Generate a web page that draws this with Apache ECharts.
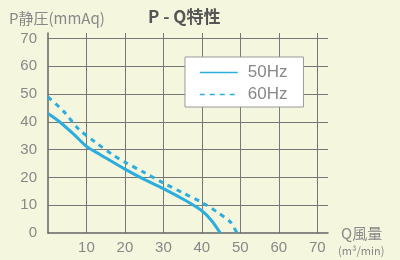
<!DOCTYPE html>
<html><head><meta charset="utf-8">
<script src="https://cdn.jsdelivr.net/npm/echarts@6/dist/echarts.min.js"></script>
<style>html,body{margin:0;padding:0;background:#f5f6de;}#c{width:400px;height:260px;}</style>
</head><body><div id="c"></div>
<script>
var titleText = 'P - Q特性';
var yAxisName = 'P静圧(mmAq)';
var xAxisName1 = 'Q風量';
var xAxisName2 = '(m³/min)';
var seriesNames = ['50Hz', '60Hz'];
var q50 = [0, 3.3, 6.8, 10, 13.6, 20, 25, 30, 36, 40, 42.5, 44.8];
var p50 = [43, 39.7, 35.4, 31.2, 28.2, 23, 19.3, 16, 11.5, 8, 4.5, 0];
var q60 = [0, 4.2, 8, 12.4, 17, 20, 25, 30, 35, 40, 44, 47.4, 49.1];
var p60 = [49, 43.6, 37.4, 32.6, 28, 25.5, 21.8, 18, 14.5, 11, 7.5, 4, 0];

function pairs(xs, ys){ return xs.map(function(x,i){ return [x, ys[i]]; }); }
var lineColor = '#2badde';
var chart = echarts.init(document.getElementById('c'), null, {renderer:'canvas'});
chart.setOption({
  backgroundColor: '#f5f6de',
  animation: false,
  title: [
    {text: titleText, left: 143, top: 3, textStyle:{fontSize:17, fontWeight:'bold', color:'#555', fontFamily:'Noto Sans CJK JP'}},
    {text: yAxisName, left: 4, top: 6, textStyle:{fontSize:15, fontWeight:'normal', color:'#888', fontFamily:'Noto Sans CJK JP'}},
    {text: xAxisName1, left: 336, top: 221, textStyle:{fontSize:15, fontWeight:'normal', color:'#888', fontFamily:'Noto Sans CJK JP'}},
    {text: xAxisName2, left: 333, top: 240, textStyle:{fontSize:11, fontWeight:'normal', color:'#888', fontFamily:'Noto Sans CJK JP'}}
  ],
  legend: {
    orient: 'vertical', left: 185, top: 57,
    backgroundColor: '#ffffff', borderColor: '#999', borderWidth: 1,
    padding: [7, 16, 4, 14], itemGap: 5,
    itemWidth: 38, itemHeight: 14,
    itemStyle: {opacity: 0},
    lineStyle: {width: 1.5},
    textStyle: {color:'#888', fontSize:17, lineHeight:14, fontFamily:'Liberation Sans', padding:[0,0,0,5]},
    data: seriesNames
  },
  grid: {left: 48, right: 72, top: 33, bottom: 27},
  xAxis: {
    type: 'value', min: 0, max: 72.8, interval: 10,
    axisLine: {show:true, lineStyle:{color:'#666', width:1.5}},
    axisTick: {show:false},
    axisLabel: {showMinLabel:false, showMaxLabel:false, color:'#888', fontSize:15, margin:7, fontFamily:'Liberation Sans'},
    splitLine: {show:true, showMinLine:false, showMaxLine:false, lineStyle:{color:'#777', width:1}}
  },
  yAxis: {
    type: 'value', min: 0, max: 72, interval: 10,
    axisLine: {show:true, lineStyle:{color:'#666', width:1.5}},
    axisTick: {show:false},
    axisLabel: {showMaxLabel:false, color:'#888', fontSize:15, margin:11, fontFamily:'Liberation Sans'},
    splitLine: {show:true, showMinLine:false, showMaxLine:false, lineStyle:{color:'#777', width:1}}
  },
  series: [
    {name: seriesNames[0], type:'line', smooth:0.3, symbol:'none', data: pairs(q50,p50),
     lineStyle:{color:lineColor, width:3}, itemStyle:{color:lineColor}},
    {name: seriesNames[1], type:'line', smooth:0.3, symbol:'none', data: pairs(q60,p60),
     lineStyle:{color:lineColor, width:3, type:[5,5]}, itemStyle:{color:lineColor}}
  ]
});
</script></body></html>
